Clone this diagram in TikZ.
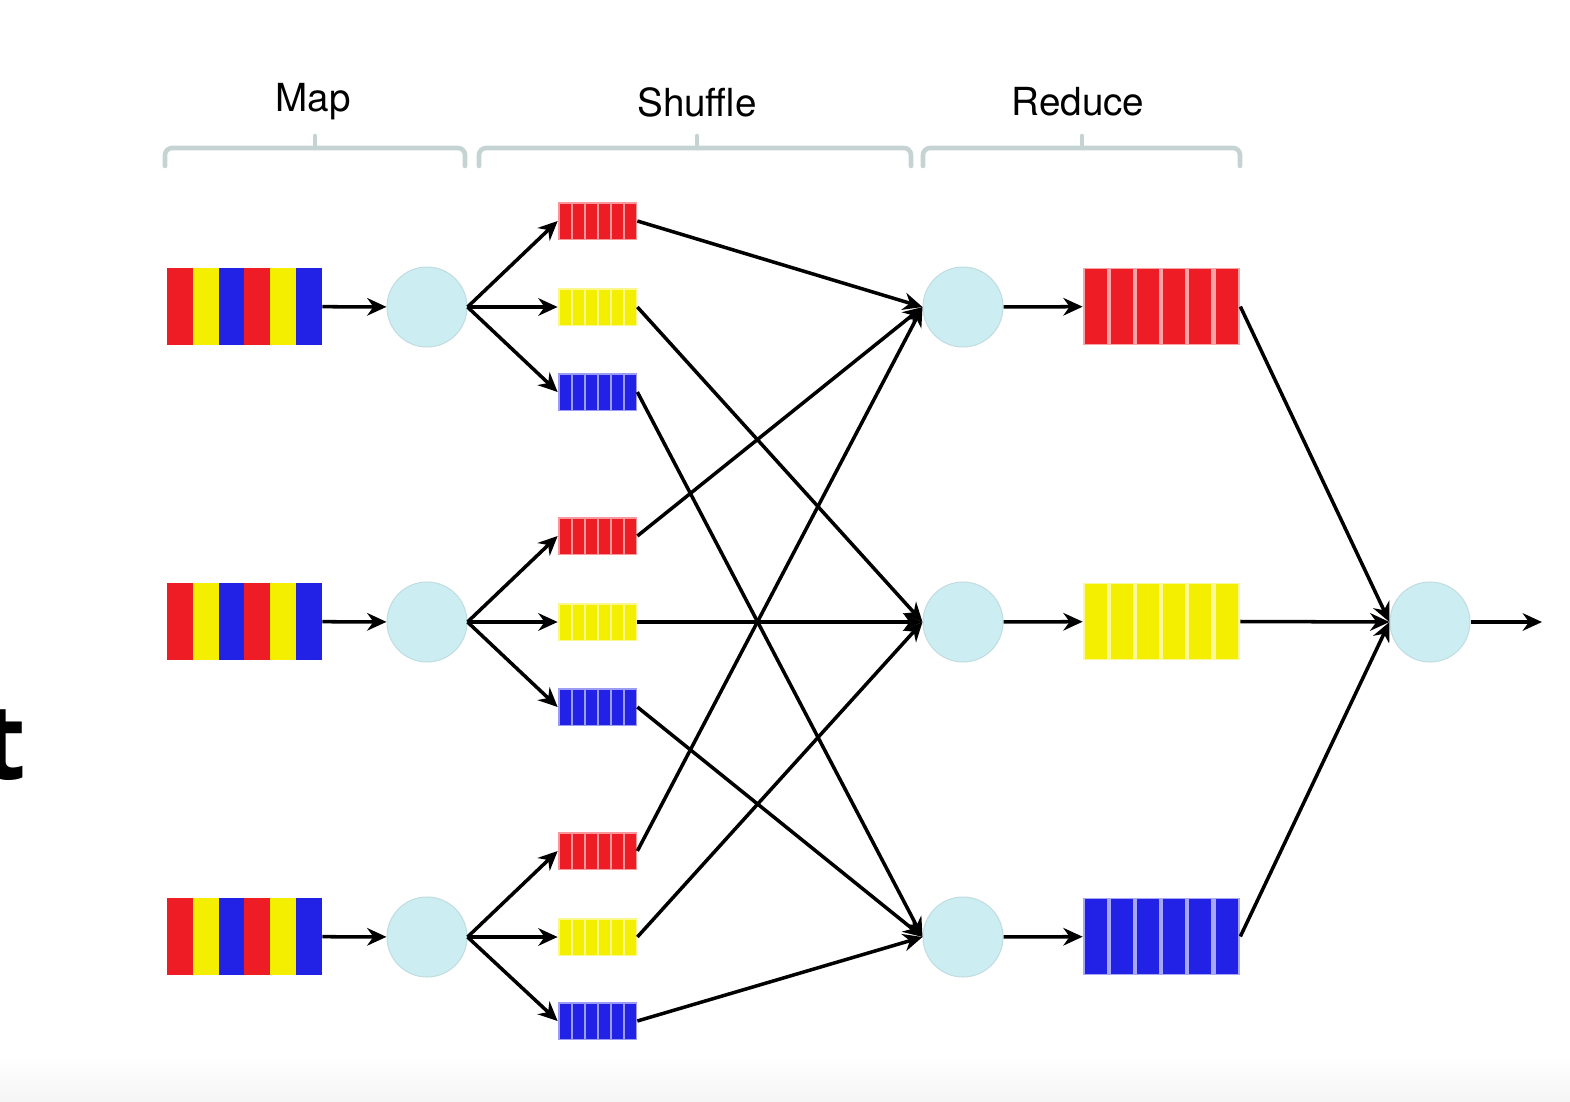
\documentclass[tikz,border=0pt]{standalone}
\usepackage{fontspec}
\setmainfont{TeX Gyre Heros}
\newfontfamily\tfont{Open Sans}
\usetikzlibrary{arrows.meta}
\definecolor{cred}{HTML}{EE1C24}
\definecolor{cyel}{HTML}{F4EE00}
\definecolor{cblu}{HTML}{2222E6}
\definecolor{ccirc}{HTML}{CCEEF2}
\definecolor{cbrace}{HTML}{C5D3D3}
\newcommand\inputblock[2]{%
  \node[blk] (#1) at (244.5,#2) {};
  \foreach \c [count=\i from 0] in {cred,cyel,cblu,cred,cyel,cblu}
    \fill[\c] (167+25.8*\i,#2-38.5) rectangle ++(25.8,77);
}
\newcommand\smallqueue[3]{%
  \node[sq,fill=#2!45!white] (#1) at (597.5,#3) {};
  \foreach \i in {0,...,5}
    \fill[#2] (560+13*\i,#3-17.5) rectangle ++(10.5,35);
}
\newcommand\outblock[3]{%
  \node[blk,fill=#2!40!white,minimum width=3.14cm] (#1) at (1161.5,#3) {};
  \foreach \i in {0,...,5}
    \fill[#2] (1085+26.1*\i,#3-37.5) rectangle ++(22,75);
}
\begin{document}
\begin{tikzpicture}[x=0.02cm,y=-0.02cm,
  proc/.style={circle,fill=ccirc,draw=ccirc!85!gray,line width=0.6pt,minimum size=1.6cm,inner sep=0pt},
  blk/.style={minimum width=3.1cm,minimum height=1.54cm,inner sep=0pt},
  sq/.style={minimum width=1.58cm,minimum height=0.76cm,inner sep=0pt},
  arr/.style={-{Stealth[length=11pt,width=10pt]},line width=2pt,black},
  brace/.style={line width=2.6pt,cbrace,line cap=round,rounded corners=4pt},
  lbl/.style={font=\fontsize{22}{26}\selectfont,inner sep=0pt}]
\useasboundingbox (0,0) rectangle (1570,1102);
\shade[top color=white,bottom color=black!4] (0,1055) rectangle (1570,1102);

% clipped letter at the left edge
\node[font=\tfont\bfseries\fontsize{60}{60}\selectfont,anchor=base west,inner sep=0pt] (tchar) at (-20,779) {t};

% labels and braces
\node[lbl] (lmap) at (313,102) {Map};
\node[lbl] (lshuf) at (697,102) {Shuffle};
\node[lbl] (lred) at (1078,102) {Reduce};
\draw[brace] (165,166) -- (165,148) -- (465,148) -- (465,166);
\draw[brace] (315,148) -- (315,136);
\draw[brace] (479,166) -- (479,148) -- (911,148) -- (911,166);
\draw[brace] (697,148) -- (697,136);
\draw[brace] (923,166) -- (923,148) -- (1240,148) -- (1240,166);
\draw[brace] (1082,148) -- (1082,136);

% inputs
\inputblock{in1}{306.5}
\inputblock{in2}{621.5}
\inputblock{in3}{936.5}

% map processes
\node[proc] (m1) at (427,307) {};
\node[proc] (m2) at (427,622) {};
\node[proc] (m3) at (427,937) {};

% small queues
\smallqueue{q1r}{cred}{221}
\smallqueue{q1y}{cyel}{307}
\smallqueue{q1b}{cblu}{392}
\smallqueue{q2r}{cred}{536}
\smallqueue{q2y}{cyel}{622}
\smallqueue{q2b}{cblu}{707}
\smallqueue{q3r}{cred}{851}
\smallqueue{q3y}{cyel}{937}
\smallqueue{q3b}{cblu}{1021}

% reduce processes
\node[proc] (r1) at (963,307) {};
\node[proc] (r2) at (963,622) {};
\node[proc] (r3) at (963,937) {};

% output blocks
\outblock{o1}{cred}{306.5}
\outblock{o2}{cyel}{621.5}
\outblock{o3}{cblu}{936.5}

% final process
\node[proc] (fin) at (1430,622) {};
\coordinate (out) at (1542,622);

% arrows
\foreach \k in {1,2,3} {
  \draw[arr] (in\k) -- (m\k);
  \draw[arr] (m\k.east) -- (q\k r.west);
  \draw[arr] (m\k.east) -- (q\k y.west);
  \draw[arr] (m\k.east) -- (q\k b.west);
  \draw[arr] (q\k r.east) -- (r1.west);
  \draw[arr] (q\k y.east) -- (r2.west);
  \draw[arr] (q\k b.east) -- (r3.west);
  \draw[arr] (r\k) -- (o\k);
  \draw[arr] (o\k.east) -- (fin.west);
}
\draw[arr] (fin) -- (out);
\end{tikzpicture}
\end{document}
